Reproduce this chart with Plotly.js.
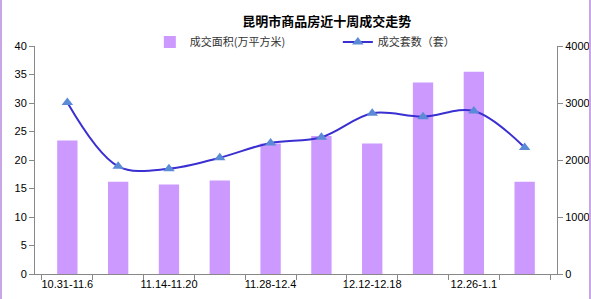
<!DOCTYPE html>
<html><head><meta charset="utf-8">
<script src="https://cdn.plot.ly/plotly-3.0.1.min.js"></script>
<style>
html,body{margin:0;padding:0;background:#fff;}
#wrap{width:591px;height:299px;position:relative;}
#chart{width:591px;height:299px;}
.edge{position:absolute;top:0;width:2px;height:299px;background:#C9A6E8;}
</style>
</head><body>
<div id="wrap"><div id="chart"></div><div class="edge" style="left:0"></div><div class="edge" style="left:589px"></div></div>
<script>
const weeks = ["10.31-11.6","11.7-11.13","11.14-11.20","11.21-11.27","11.28-12.4","12.5-12.11","12.12-12.18","12.19-12.25","12.26-1.1","1.2-1.8"];
const tickLabels = ["10.31-11.6","","11.14-11.20","","11.28-12.4","","12.12-12.18","","12.26-1.1",""];
const areaValues = [23.4, 16.2, 15.7, 16.4, 22.9, 24.2, 22.9, 33.6, 35.5, 16.2];
const unitValues = [3010, 1890, 1845, 2040, 2300, 2400, 2820, 2760, 2860, 2220];

const fontFam = "Liberation Sans, Arial, Noto Sans CJK SC, sans-serif";
const traces = [
  {type:"bar", x:weeks, y:areaValues, name:"成交面积(万平方米)", marker:{color:"#CC99FF"}, width:0.4, yaxis:"y"},
  {type:"scatter", mode:"lines+markers", x:weeks, y:unitValues, name:"成交套数（套）", yaxis:"y2",
   line:{color:"#3A2FD0", width:2, shape:"spline", smoothing:1},
   marker:{symbol:"triangle-up", size:10, color:"#5B8BD6"}}
];
const layout = {
  width:591, height:299,
  margin:{l:35, r:34, t:46, b:25},
  paper_bgcolor:"#fff", plot_bgcolor:"#fff",
  font:{family:fontFam, size:11, color:"#000"},
  title:{text:"<b>昆明市商品房近十周成交走势</b>", x:0.553, xanchor:"center", y:0.928, yanchor:"middle",
         font:{family:"Noto Sans CJK SC, sans-serif", size:13, color:"#000"}},
  showlegend:true,
  legend:{orientation:"h", x:0.22, xanchor:"left", y:1.018, yanchor:"middle",
          font:{family:"Noto Sans CJK SC, sans-serif", size:11, color:"#333"}, bgcolor:"rgba(0,0,0,0)",
          itemwidth:30, entrywidth:143, tracegroupgap:0},
  xaxis:{type:"category", tickvals:weeks, ticktext:tickLabels, tickson:"boundaries", ticks:"outside", ticklen:5,
         tickcolor:"#888", showline:true, linecolor:"#888", linewidth:1, showgrid:false, zeroline:false,
         tickangle:0, tickfont:{size:11}},
  yaxis:{range:[0,40], dtick:5, ticks:"outside", ticklen:5, tickcolor:"#888", showline:true, linecolor:"#888",
         showgrid:false, zeroline:false, tickfont:{size:11}},
  yaxis2:{range:[0,4000], dtick:1000, overlaying:"y", side:"right", ticks:"outside", ticklen:5, tickcolor:"#888",
          showline:true, linecolor:"#888", showgrid:false, zeroline:false, tickfont:{size:11}}
};
Plotly.newPlot("chart", traces, layout, {displayModeBar:false, staticPlot:true});
</script>
</body></html>
